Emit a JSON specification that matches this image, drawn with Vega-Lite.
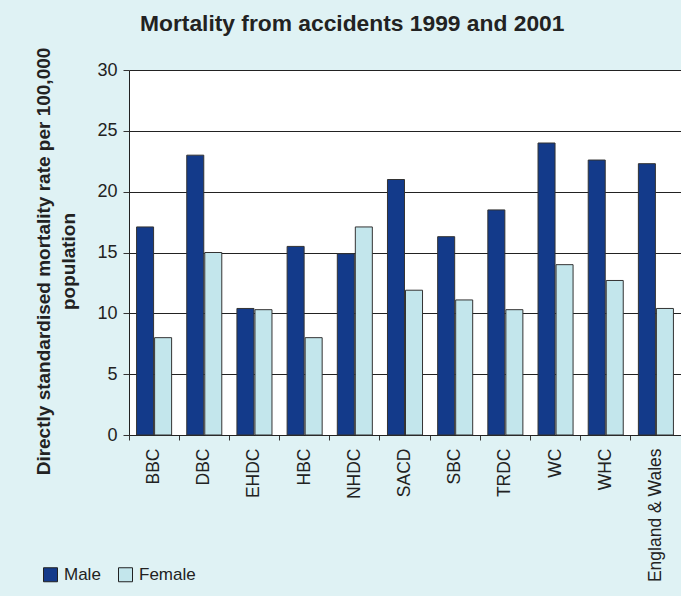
{
  "$schema": "https://vega.github.io/schema/vega-lite/v6.json",
  "autosize": {"type": "none"},
  "width": 552,
  "height": 365,
  "padding": {"left": 129, "top": 70, "right": 0, "bottom": 161},
  "background": "#dff2f4",
  "title": {
    "text": "Mortality from accidents 1999 and 2001",
    "anchor": "start",
    "frame": "group",
    "dx": 11,
    "offset": 11,
    "font": "Liberation Sans",
    "fontSize": 22.8,
    "fontWeight": "bold",
    "color": "#222222"
  },
  "config": {
    "font": "Liberation Sans",
    "view": {"fill": "#ffffff", "stroke": null}
  },
  "data": {
    "values": [
      {"area": "BBC", "sex": "Male", "rate": 17.1},
      {"area": "BBC", "sex": "Female", "rate": 8.0},
      {"area": "DBC", "sex": "Male", "rate": 23.0},
      {"area": "DBC", "sex": "Female", "rate": 15.0},
      {"area": "EHDC", "sex": "Male", "rate": 10.4},
      {"area": "EHDC", "sex": "Female", "rate": 10.3},
      {"area": "HBC", "sex": "Male", "rate": 15.5},
      {"area": "HBC", "sex": "Female", "rate": 8.0},
      {"area": "NHDC", "sex": "Male", "rate": 14.9},
      {"area": "NHDC", "sex": "Female", "rate": 17.1},
      {"area": "SACD", "sex": "Male", "rate": 21.0},
      {"area": "SACD", "sex": "Female", "rate": 11.9},
      {"area": "SBC", "sex": "Male", "rate": 16.3},
      {"area": "SBC", "sex": "Female", "rate": 11.1},
      {"area": "TRDC", "sex": "Male", "rate": 18.5},
      {"area": "TRDC", "sex": "Female", "rate": 10.3},
      {"area": "WC", "sex": "Male", "rate": 24.0},
      {"area": "WC", "sex": "Female", "rate": 14.0},
      {"area": "WHC", "sex": "Male", "rate": 22.6},
      {"area": "WHC", "sex": "Female", "rate": 12.7},
      {"area": "England & Wales", "sex": "Male", "rate": 22.3},
      {"area": "England & Wales", "sex": "Female", "rate": 10.4}
    ]
  },
  "mark": {"type": "bar", "stroke": "#333333", "strokeWidth": 1},
  "encoding": {
    "x": {
      "field": "area",
      "type": "nominal",
      "sort": null,
      "scale": {"paddingInner": 0, "paddingOuter": 0},
      "axis": {
        "title": null,
        "labelAngle": -90,
        "labelAlign": "right",
        "labelBaseline": "middle",
        "labelFontSize": 17.5,
        "labelColor": "#222222",
        "labelPadding": 8,
        "bandPosition": 0,
        "ticks": true,
        "tickSize": 5,
        "tickColor": "#333333",
        "domainColor": "#222222",
        "grid": false
      }
    },
    "xOffset": {
      "field": "sex",
      "sort": ["Male", "Female"],
      "scale": {"paddingInner": 0.056, "paddingOuter": 0.42}
    },
    "y": {
      "field": "rate",
      "type": "quantitative",
      "scale": {"domain": [0, 30], "nice": false},
      "axis": {
        "values": [0, 5, 10, 15, 20, 25, 30],
        "title": ["Directly standardised mortality rate per 100,000", "population"],
        "titleFontSize": 19,
        "titleFontWeight": "bold",
        "titleColor": "#222222",
        "titleLineHeight": 25,
        "titlePadding": 18,
        "titleY": 191,
        "labelFontSize": 18,
        "labelColor": "#222222",
        "labelPadding": 6,
        "tickSize": 6,
        "tickColor": "#333333",
        "domainColor": "#222222",
        "grid": true,
        "gridColor": "#222222",
        "gridOpacity": 1
      }
    },
    "color": {
      "field": "sex",
      "type": "nominal",
      "sort": ["Male", "Female"],
      "scale": {"domain": ["Male", "Female"], "range": ["#133a8a", "#c3e6ec"]},
      "legend": {
        "title": null,
        "orient": "none",
        "legendX": -87,
        "legendY": 496,
        "direction": "horizontal",
        "symbolType": "square",
        "symbolSize": 196,
        "symbolStrokeColor": "#222222",
        "symbolStrokeWidth": 1,
        "labelFontSize": 17,
        "labelColor": "#222222",
        "labelOffset": 5,
        "columnPadding": 15
      }
    }
  }
}
